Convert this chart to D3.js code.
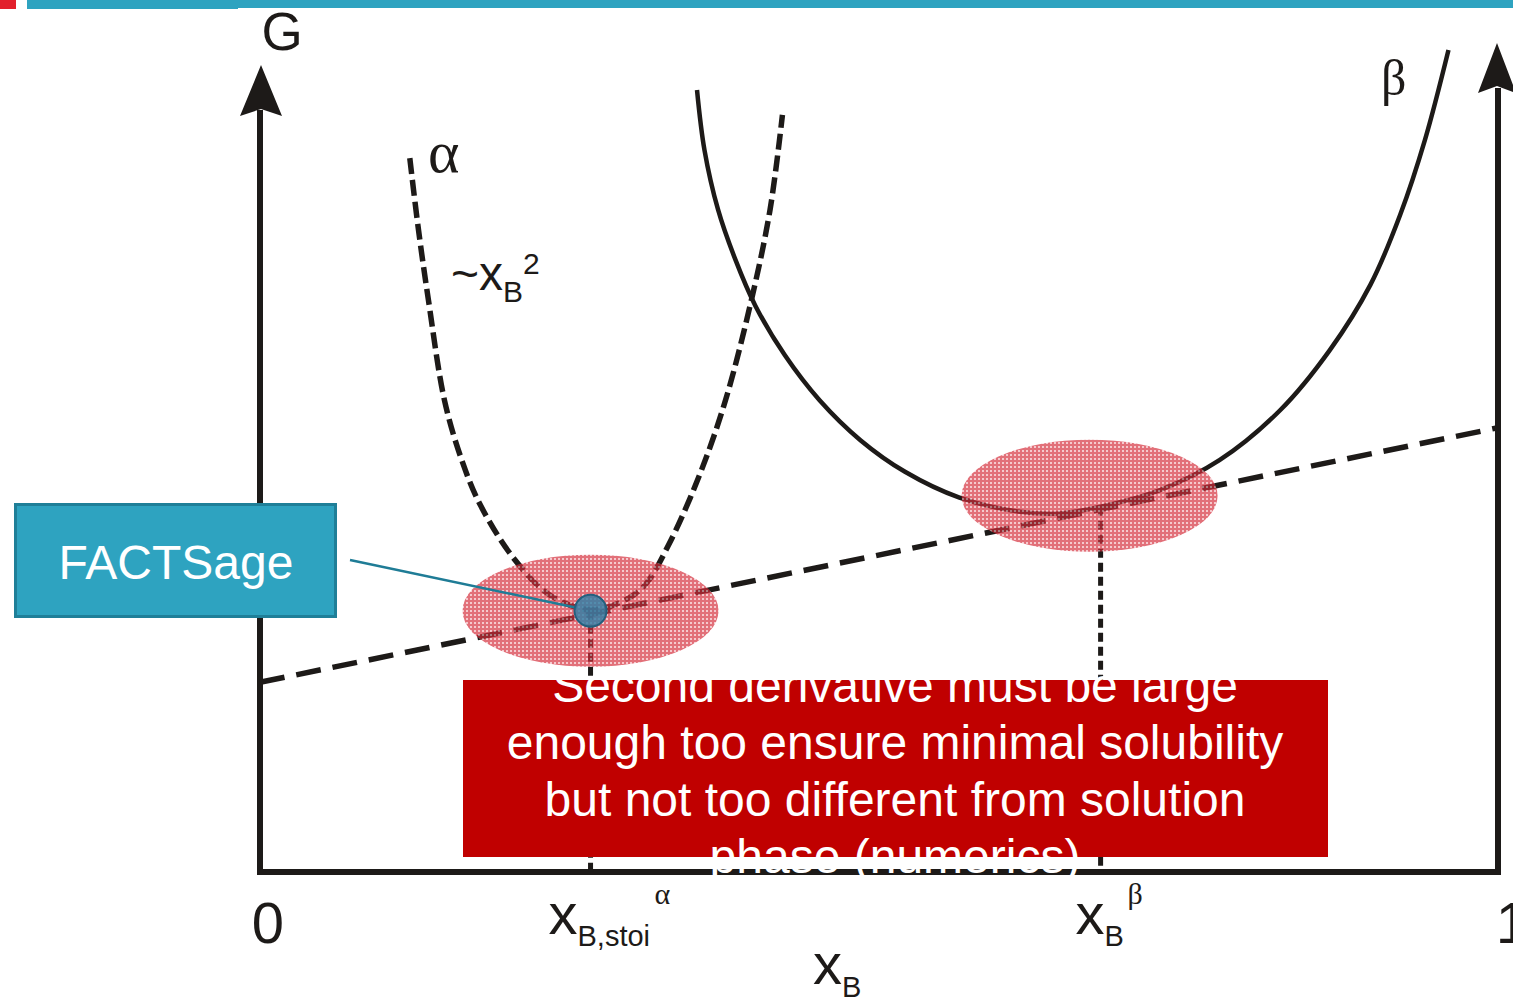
<!DOCTYPE html>
<html>
<head>
<meta charset="utf-8">
<script src="https://cdn.jsdelivr.net/npm/d3@7"></script>
<style>
  html, body { margin: 0; padding: 0; background: #fff; }
  svg { display: block; }
  .sans { font-family: "Liberation Sans", Arial, Helvetica, sans-serif; }
  .serif { font-family: "Liberation Serif", "Times New Roman", serif; }
</style>
</head>
<body>
<div id="chart"></div>
<script>
(function() {
    'use strict';

    // --- data (composition x_B in [0,1], G in arbitrary units 0..100) ---
    var alphaX = [0.121, 0.128, 0.136, 0.149, 0.163, 0.178, 0.206, 0.234, 0.267, 0.295, 0.311, 0.330, 0.355, 0.376, 0.397, 0.412, 0.422];
    var alphaG = [85.8, 77.2, 68.8, 56.7, 49.5, 44.1, 37.5, 33.3, 31.5, 32.7, 34.5, 39.3, 47.7, 56.7, 68.8, 79.6, 91.0];

    var betaX = [0.353, 0.359, 0.370, 0.384, 0.400, 0.424, 0.452, 0.485, 0.521, 0.565, 0.614, 0.646, 0.679, 0.727, 0.775, 0.824, 0.864, 0.897, 0.921, 0.941, 0.960];
    var betaG = [94.0, 86.8, 79.6, 73.6, 68.1, 62.1, 56.7, 51.9, 48.1, 45.0, 43.3, 43.1, 43.9, 45.9, 49.5, 55.5, 62.7, 70.6, 79.0, 88.0, 98.8];

    // common tangent
    var tangentX = [0, 1];
    var tangentG = [22.8, 53.4];

    // contact points
    var contactX = [0.267, 0.679];
    var contactG = [31.4, 43.9];

    var axisTicks = ['0', '1'];
    var redLines = [
        'Second derivative must be large',
        'enough too ensure minimal solubility',
        'but not too different from solution',
        'phase (numerics)'
    ];

    var width = 1513, height = 1001;

    var x = d3.scaleLinear().domain([0, 1]).range([260, 1498]);
    var y = d3.scaleLinear().domain([0, 100]).range([872, 40]);

    var svg = d3.select('#chart').append('svg')
        .attr('width', width)
        .attr('height', height)
        .attr('viewBox', [0, 0, width, height].join(' '));

    // hatch pattern for the highlight ellipses
    var defs = svg.append('defs');
    var pat = defs.append('pattern')
        .attr('id', 'hatch')
        .attr('patternUnits', 'userSpaceOnUse')
        .attr('width', 4).attr('height', 4);
    pat.append('rect').attr('width', 4).attr('height', 4).attr('fill', '#f0b0b6');
    pat.append('rect').attr('width', 4).attr('height', 2).attr('fill', '#d42c3a');
    pat.append('rect').attr('width', 2).attr('height', 4).attr('fill', '#d42c3a');

    // top banner
    svg.append('rect').attr('x', 0).attr('y', 0).attr('width', 16).attr('height', 9).attr('fill', '#e2202c');
    svg.append('rect').attr('x', 27).attr('y', 0).attr('width', 211).attr('height', 9).attr('fill', '#2ea3c0');
    svg.append('rect').attr('x', 238).attr('y', 0).attr('width', width - 238).attr('height', 8).attr('fill', '#2ea3c0');

    // axes
    var axisColor = '#1d1a18';
    svg.append('path')
        .attr('d', 'M' + x(0) + ',110 V' + y(0) + ' H' + x(1) + ' V88')
        .attr('fill', 'none')
        .attr('stroke', axisColor)
        .attr('stroke-width', 6)
        .attr('stroke-linejoin', 'miter');

    function arrow(cx, tip, base, half) {
        return 'M' + cx + ',' + tip +
            ' L' + (cx + half) + ',' + base +
            ' L' + cx + ',' + (base - 7) +
            ' L' + (cx - half) + ',' + base + ' Z';
    }
    svg.append('path').attr('d', arrow(x(0) + 1, 65, 116, 21)).attr('fill', axisColor);
    svg.append('path').attr('d', arrow(x(1) - 1, 43, 93, 19)).attr('fill', axisColor);

    var line = d3.line()
        .x(function(d) { return x(d[0]); })
        .y(function(d) { return y(d[1]); })
        .curve(d3.curveCatmullRom.alpha(0.5));

    function zip(a, b) { return a.map(function(v, i) { return [v, b[i]]; }); }

    // common tangent (dashed)
    svg.append('path')
        .datum(zip(tangentX, tangentG))
        .attr('d', line)
        .attr('fill', 'none')
        .attr('stroke', axisColor)
        .attr('stroke-width', 5.5)
        .attr('stroke-dasharray', '25 12');

    // alpha curve (dashed)
    svg.append('path')
        .datum(zip(alphaX, alphaG))
        .attr('d', line)
        .attr('fill', 'none')
        .attr('stroke', axisColor)
        .attr('stroke-width', 5.5)
        .attr('stroke-dasharray', '16 6');

    // beta curve (solid)
    svg.append('path')
        .datum(zip(betaX, betaG))
        .attr('d', line)
        .attr('fill', 'none')
        .attr('stroke', axisColor)
        .attr('stroke-width', 4.5);

    // vertical drop lines
    svg.selectAll('line.drop')
        .data(contactX)
        .join('line')
        .attr('class', 'drop')
        .attr('x1', function(d) { return x(d); })
        .attr('x2', function(d) { return x(d); })
        .attr('y1', function(d, i) { return y(contactG[i]); })
        .attr('y2', y(0))
        .attr('stroke', axisColor)
        .attr('stroke-width', 5)
        .attr('stroke-dasharray', '9 5');

    // highlight ellipses
    svg.selectAll('ellipse.hl')
        .data(contactX)
        .join('ellipse')
        .attr('class', 'hl')
        .attr('cx', function(d, i) { return x(d) - (i === 1 ? 11 : 0); })
        .attr('cy', function(d, i) { return y(contactG[i]) - (i === 1 ? 11 : 0); })
        .attr('rx', 128)
        .attr('ry', 56)
        .attr('fill', 'url(#hatch)')
        .attr('opacity', 0.68);

    // FACTSage callout
    svg.append('line')
        .attr('x1', 350).attr('y1', 560)
        .attr('x2', x(contactX[0]) - 14).attr('y2', y(contactG[0]) - 3)
        .attr('stroke', '#1f7c96')
        .attr('stroke-width', 2.5);

    svg.append('circle')
        .attr('cx', x(contactX[0]))
        .attr('cy', y(contactG[0]))
        .attr('r', 16)
        .attr('fill', '#2f7fa6')
        .attr('fill-opacity', 0.82)
        .attr('stroke', '#24607e')
        .attr('stroke-width', 2);

    svg.append('rect')
        .attr('x', 15.5).attr('y', 504.5)
        .attr('width', 320).attr('height', 112)
        .attr('fill', '#2ea3c0')
        .attr('stroke', '#1f7f98')
        .attr('stroke-width', 3);
    svg.append('text')
        .attr('class', 'sans')
        .attr('x', 176).attr('y', 579)
        .attr('text-anchor', 'middle')
        .attr('font-size', 48)
        .attr('fill', '#fff')
        .text('FACTSage');

    // red note box
    svg.append('rect')
        .attr('x', 463).attr('y', 680)
        .attr('width', 865).attr('height', 177)
        .attr('fill', '#c00000');
    svg.append('g')
        .selectAll('text')
        .data(redLines)
        .join('text')
        .attr('class', 'sans')
        .attr('x', 895)
        .attr('y', function(d, i) { return 702 + i * 57; })
        .attr('text-anchor', 'middle')
        .attr('font-size', 48)
        .attr('fill', '#fff')
        .text(function(d) { return d; });

    // labels
    var txt = svg.append('g').attr('fill', '#1d1a18');

    txt.append('text').attr('class', 'sans')
        .attr('x', 282).attr('y', 50)
        .attr('text-anchor', 'middle').attr('font-size', 53)
        .text('G');

    txt.append('text').attr('class', 'serif')
        .attr('x', 428).attr('y', 172)
        .attr('font-size', 60)
        .text('α');

    txt.append('text').attr('class', 'serif')
        .attr('x', 1381).attr('y', 95)
        .attr('font-size', 50)
        .text('β');

    var sq = txt.append('text').attr('class', 'sans')
        .attr('x', 451).attr('y', 290)
        .attr('font-size', 48);
    sq.append('tspan').text('~x');
    sq.append('tspan').attr('font-size', 30).attr('dy', 12).text('B');
    sq.append('tspan').attr('font-size', 30).attr('dy', -28).text('2');

    // tick labels 0 and 1
    txt.selectAll('text.tick')
        .data(axisTicks)
        .join('text')
        .attr('class', 'sans tick')
        .attr('x', function(d, i) { return i === 0 ? x(0) + 8 : x(1) + 14; })
        .attr('y', 943)
        .attr('text-anchor', 'middle')
        .attr('font-size', 58)
        .text(function(d) { return d; });

    // x_B,stoi^alpha
    var xs = txt.append('text').attr('class', 'sans')
        .attr('x', x(contactX[0]) - 42).attr('y', 934)
        .attr('font-size', 58);
    xs.append('tspan').text('x');
    xs.append('tspan').attr('font-size', 29).attr('dy', 12).text('B,stoi');
    txt.append('text').attr('class', 'serif')
        .attr('x', x(contactX[0]) + 64).attr('y', 904)
        .attr('font-size', 30)
        .text('α');

    // x_B^beta
    var xb = txt.append('text').attr('class', 'sans')
        .attr('x', x(contactX[1]) - 25).attr('y', 934)
        .attr('font-size', 58);
    xb.append('tspan').text('x');
    xb.append('tspan').attr('font-size', 29).attr('dy', 12).text('B');
    txt.append('text').attr('class', 'serif')
        .attr('x', x(contactX[1]) + 27).attr('y', 904)
        .attr('font-size', 30)
        .text('β');

    // axis title
    var xt = txt.append('text').attr('class', 'sans')
        .attr('x', 813).attr('y', 984)
        .attr('font-size', 58);
    xt.append('tspan').text('x');
    xt.append('tspan').attr('font-size', 29).attr('dy', 13).text('B');
})();
</script>
</body>
</html>
